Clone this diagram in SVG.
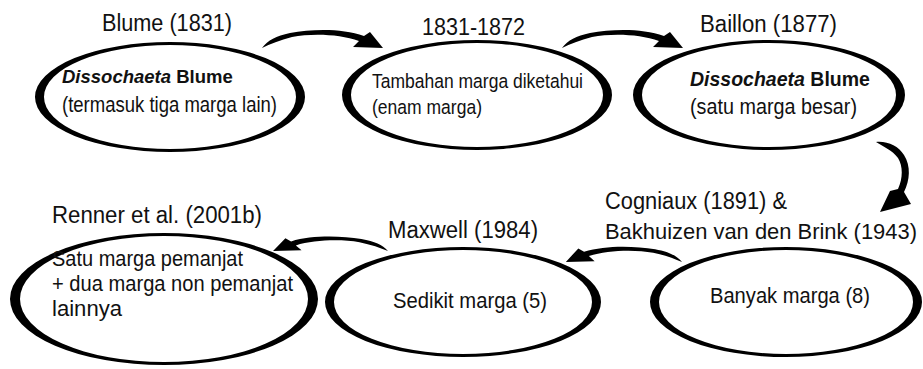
<svg xmlns="http://www.w3.org/2000/svg" width="923" height="369" viewBox="0 0 923 369">
<style>
text{font-family:"Liberation Sans",Arial,sans-serif;fill:#111}
.lbl{font-size:23.5px}
.t{font-size:21.5px}
.ring{fill:#000;fill-rule:evenodd}
.arrow{fill:#000}
.b{font-weight:bold}
.i{font-style:italic}
</style>
<defs>
<path id="arrowShape" d="M262,48 C268,40 276,36 290,33 C312,29 342,28 364,36 L370,32 L383,48 L353,47 L359,41 C340,34 312,33 292,37 C280,40 270,44 262,48 Z"/>
</defs>
<g id="connectors">
<use href="#arrowShape" class="arrow"/>
<use href="#arrowShape" class="arrow" transform="translate(300,0)"/>
<path class="arrow" d="M876,142 C888,141 898,146 904,155 C911,166 910,180 904,192 L911,204 L880,212 L890,191 L898,189 C903,178 903,166 898,158 C892,150 884,147 876,142 Z"/>
<use href="#arrowShape" class="arrow" transform="translate(682,262) scale(-0.96,0.85) translate(-262,-48)"/>
<use href="#arrowShape" class="arrow" transform="translate(388,251) scale(-0.95,0.8) translate(-262,-48)"/>
</g>
<g id="node-blume">
<text class="lbl" x="102" y="31" textLength="130" lengthAdjust="spacingAndGlyphs">Blume (1831)</text>
<path class="ring" d="M35,97 A135,55 0 1 0 305,97 A135,55 0 1 0 35,97 Z M44,97 A126,52 0 1 0 296,97 A126,52 0 1 0 44,97 Z"/>
<text class="b" x="62" y="83" font-size="18.5"><tspan class="i">Dissochaeta</tspan> Blume</text>
<text class="t" x="62" y="112" textLength="215" lengthAdjust="spacingAndGlyphs">(termasuk tiga marga lain)</text>
</g>
<g id="node-tambahan">
<text class="lbl" x="422" y="35" textLength="103" lengthAdjust="spacingAndGlyphs">1831-1872</text>
<path class="ring" d="M342,95 A135,55 0 1 0 612,95 A135,55 0 1 0 342,95 Z M351,95 A126,52 0 1 0 603,95 A126,52 0 1 0 351,95 Z"/>
<text x="372" y="88" font-size="20.5" textLength="211" lengthAdjust="spacingAndGlyphs">Tambahan marga diketahui</text>
<text x="372" y="114" font-size="20.5" textLength="110" lengthAdjust="spacingAndGlyphs">(enam marga)</text>
</g>
<g id="node-baillon">
<text class="lbl" x="700" y="32" textLength="137" lengthAdjust="spacingAndGlyphs">Baillon (1877)</text>
<path class="ring" d="M633,95 A136,55 0 1 0 905,95 A136,55 0 1 0 633,95 Z M642,95 A127,52 0 1 0 896,95 A127,52 0 1 0 642,95 Z"/>
<text class="b" x="690" y="86" font-size="19.5"><tspan class="i">Dissochaeta</tspan> Blume</text>
<text class="t" x="690" y="114" textLength="167" lengthAdjust="spacingAndGlyphs">(satu marga besar)</text>
</g>
<g id="node-banyak">
<text class="lbl" x="605" y="209" textLength="182" lengthAdjust="spacingAndGlyphs">Cogniaux (1891) &amp;</text>
<text x="605" y="239" font-size="22" textLength="312" lengthAdjust="spacingAndGlyphs">Bakhuizen van den Brink (1943)</text>
<path class="ring" d="M650,302 A136,55 0 1 0 922,302 A136,55 0 1 0 650,302 Z M659,302 A127,52 0 1 0 913,302 A127,52 0 1 0 659,302 Z"/>
<text class="t" x="710" y="303" textLength="160" lengthAdjust="spacingAndGlyphs">Banyak marga (8)</text>
</g>
<g id="node-sedikit">
<text class="lbl" x="388" y="238" textLength="150" lengthAdjust="spacingAndGlyphs">Maxwell (1984)</text>
<path class="ring" d="M325,302 A138,55 0 1 0 601,302 A138,55 0 1 0 325,302 Z M334,302 A129,52 0 1 0 592,302 A129,52 0 1 0 334,302 Z"/>
<text class="t" x="393" y="308" textLength="154" lengthAdjust="spacingAndGlyphs">Sedikit marga (5)</text>
</g>
<g id="node-renner">
<text class="lbl" x="52" y="223" textLength="210" lengthAdjust="spacingAndGlyphs">Renner et al. (2001b)</text>
<path class="ring" d="M10,299 A154,66 0 1 0 318,299 A154,66 0 1 0 10,299 Z M20,299 A144,63 0 1 0 308,299 A144,63 0 1 0 20,299 Z"/>
<text class="t" x="52" y="266" textLength="191" lengthAdjust="spacingAndGlyphs">Satu marga pemanjat</text>
<text class="t" x="52" y="291" textLength="241" lengthAdjust="spacingAndGlyphs">+ dua marga non pemanjat</text>
<text class="t" x="52" y="316" textLength="70" lengthAdjust="spacingAndGlyphs">lainnya</text>
</g>
</svg>
